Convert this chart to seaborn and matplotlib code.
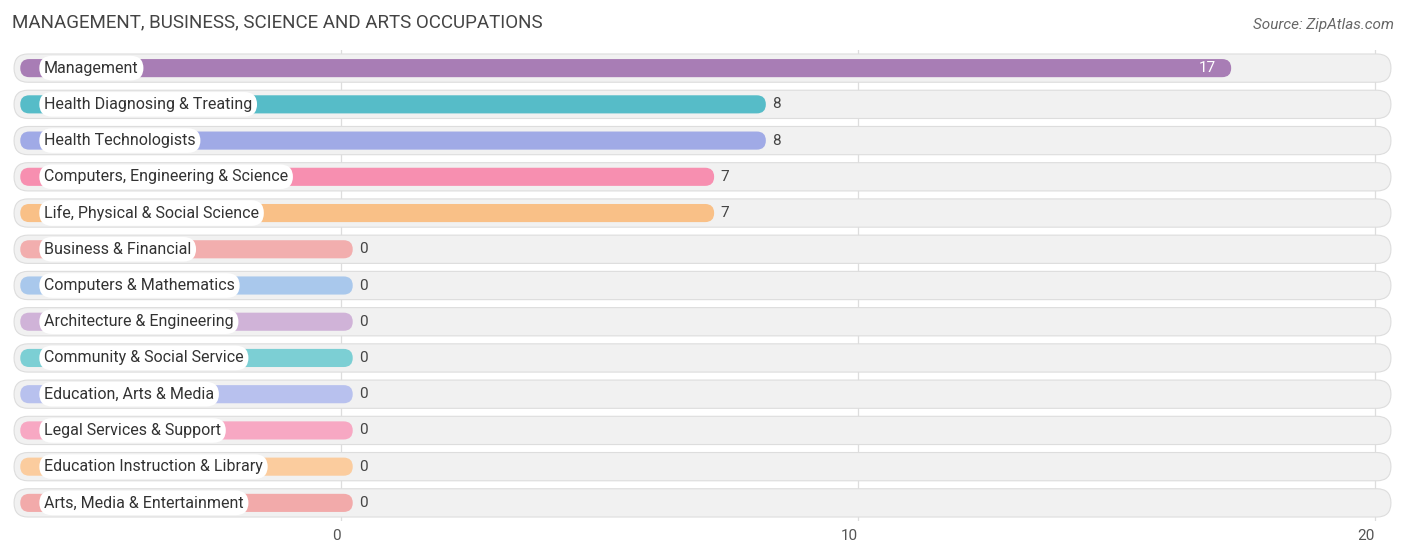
import matplotlib
matplotlib.use("Agg")
import matplotlib.pyplot as plt
from matplotlib.patches import FancyBboxPatch
import seaborn as sns
import pandas as pd

categories = ["Management", "Health Diagnosing & Treating", "Health Technologists",
              "Computers, Engineering & Science", "Life, Physical & Social Science",
              "Business & Financial", "Computers & Mathematics", "Architecture & Engineering",
              "Community & Social Service", "Education, Arts & Media",
              "Legal Services & Support", "Education Instruction & Library",
              "Arts, Media & Entertainment"]
values = [17, 8, 8, 7, 7, 0, 0, 0, 0, 0, 0, 0, 0]
colors = ["#a87db5", "#56bcc8", "#a0aae6", "#f78fb0", "#f9c087", "#f2aeae", "#a9c8ec",
          "#d0b3d8", "#7ccfd4", "#b8c1ee", "#f7a8c3", "#fbcc9e", "#f2aaaa"]
ticks = [0, 10, 20]

X0 = -6.2       # left end of bars (label area)
MINLEN = 0.23   # zero bars still stick out past the label
CAP = 0.22      # rounded cap extends past the value
XMIN, XMAX = -6.36, 20.35

plt.rcParams["font.family"] = "Roboto"
fig = plt.figure(figsize=(14.06, 5.59), dpi=100)
ax = fig.add_axes([12 / 1406, 1 - 521 / 559, (1393 - 12) / 1406, 471 / 559])

df = pd.DataFrame({"cat": categories,
                   "len": [v + CAP if v > 0 else MINLEN for v in values]})
sns.barplot(data=df, x="len", y="cat", hue="cat", palette=colors, legend=False,
            orient="h", width=0.5, ax=ax)
ax.set_xlim(XMIN, XMAX)
ax.set_ylim(len(categories) - 0.5, -0.5)

asp = (1 / 36.25) / (1 / 51.7)
for i, p in enumerate(list(ax.patches)):
    y, h, w = p.get_y(), p.get_height(), p.get_width()
    p.remove()
    # background track
    ax.add_patch(FancyBboxPatch((XMIN + 0.04, i - 0.39), XMAX - XMIN - 0.08, 0.78,
                                boxstyle="round,pad=0,rounding_size=0.27",
                                mutation_aspect=asp, fc="#f1f1f1", ec="#dddddd",
                                lw=0.8, zorder=1))
    ax.add_patch(FancyBboxPatch((X0, y), w - X0, h,
                                boxstyle="round,pad=0,rounding_size=0.174",
                                mutation_aspect=asp, fc=colors[i], ec="none", zorder=2))
    ax.text(-5.74, i, categories[i], va="center", ha="left", fontsize=11.5,
            color="#333333", zorder=4,
            bbox=dict(boxstyle="round,pad=0.3,rounding_size=0.8", fc="white", ec="none"))
    v = values[i]
    if v >= 15:
        ax.text(w - 0.3, i, str(v), va="center", ha="right", color="white",
                fontsize=11, zorder=4)
    else:
        ax.text(w + 0.12, i, str(v), va="center", ha="left", color="#444444",
                fontsize=11, zorder=4)

for t in ticks:
    ax.axvline(t, color="#dddddd", lw=0.9, zorder=0)
ax.set_xticks(ticks)
ax.set_xticklabels([str(t) for t in ticks], fontsize=11, color="#555555")
for lbl in ax.get_xticklabels():
    lbl.set_ha("right")
ax.tick_params(axis="x", length=0, pad=6)
ax.set_yticks([])
ax.set_xlabel("")
ax.set_ylabel("")
for s in ax.spines.values():
    s.set_visible(False)

fig.text(12 / 1406, 1 - 22 / 559, "MANAGEMENT, BUSINESS, SCIENCE AND ARTS OCCUPATIONS",
         fontsize=13.5, color="#444444", va="center", ha="left")
fig.text(1394 / 1406, 1 - 25 / 559, "Source: ZipAtlas.com", fontsize=11,
         color="#666666", style="italic", va="center", ha="right")

fig.savefig("out.png", dpi=100)
